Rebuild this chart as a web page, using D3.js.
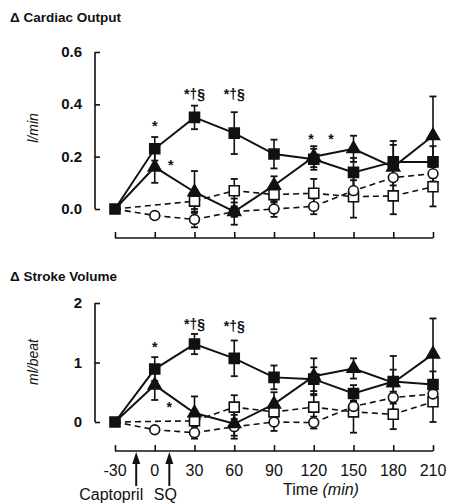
<!DOCTYPE html>
<html>
<head>
<meta charset="utf-8">
<script src="https://cdn.jsdelivr.net/npm/d3@7"></script>
<style>
  body { margin: 0; background: #fff; }
  text { font-family: "Liberation Sans", Arial, sans-serif; fill: #111; }
</style>
</head>
<body>
<script>
// time points (min)
var times = [-30, 0, 30, 60, 90, 120, 150, 180, 210];
var tickLabels = ["-30", "0", "30", "60", "90", "120", "150", "180", "210"];

// cardiac output (l/min)
var coSquare = [0, 0.23, 0.35, 0.29, 0.21, 0.19, 0.14, 0.18, 0.18];
var coSquareErr = [0, 0.045, 0.045, 0.08, 0.055, 0.04, 0.055, 0.065, 0.06];
var coTri = [0, 0.16, 0.065, -0.01, 0.09, 0.2, 0.23, 0.16, 0.28];
var coTriErr = [0, 0.06, 0.08, 0.05, 0.035, 0.04, 0.05, 0.1, 0.15];
var coOpenSq = [0, null, 0.03, 0.07, 0.055, 0.06, 0.047, 0.05, 0.085];
var coOpenSqErr = [0, null, 0.03, 0.045, 0.03, 0.055, 0.08, 0.07, 0.075];
var coCircle = [0, -0.025, -0.04, -0.01, 0.0, 0.01, 0.07, 0.12, 0.135];
var coCircleErr = [0, 0.01, 0.03, 0.02, 0.03, 0.03, 0.04, 0.03, 0.03];

// stroke volume (ml/beat)
var svSquare = [0, 0.89, 1.31, 1.07, 0.75, 0.72, 0.48, 0.68, 0.63];
var svSquareErr = [0, 0.2, 0.17, 0.3, 0.2, 0.2, 0.14, 0.2, 0.22];
var svTri = [0, 0.62, 0.15, -0.03, 0.3, 0.77, 0.9, 0.66, 1.14];
var svTriErr = [0, 0.25, 0.28, 0.2, 0.2, 0.3, 0.17, 0.45, 0.6];
var svOpenSq = [0, null, 0.02, 0.25, 0.17, 0.25, 0.17, 0.13, 0.34];
var svOpenSqErr = [0, null, 0.15, 0.2, 0.15, 0.2, 0.35, 0.25, 0.34];
var svCircle = [0, -0.13, -0.18, -0.08, 0.0, -0.01, 0.26, 0.41, 0.47];
var svCircleErr = [0, 0.03, 0.1, 0.2, 0.15, 0.1, 0.1, 0.1, 0.18];

// significance marks: [time, value, label]
var coMarks = [[0, 0.3, "*"], [30, 0.42, "*†§"], [60, 0.42, "*†§"], [12, 0.15, "*"], [118, 0.25, "*"], [133, 0.25, "*"]];
var svMarks = [[0, 1.17, "*"], [30, 1.56, "*†§"], [60, 1.53, "*†§"], [11, 0.16, "*"]];

var svg = d3.select("body").append("svg")
    .attr("width", 452)
    .attr("height", 504);

var x = d3.scaleLinear().domain([-30, 210]).range([115, 433]);

function toPts(vals, errs) {
  return times.map(function(t, i) { return {t: t, v: vals[i], e: errs[i]}; })
              .filter(function(d) { return d.v != null; });
}

function panel(opt) {
  var y = d3.scaleLinear().domain(opt.domain).range(opt.range);
  var g = svg.append("g");

  // title
  g.append("text").attr("x", 10).attr("y", opt.titleY)
    .style("font-size", "13.5px").style("font-weight", "bold")
    .text("Δ " + opt.title);

  // y axis line + ticks (inward)
  var yAxis = d3.axisRight(y).tickValues(opt.ticks).tickSize(5).tickFormat("");
  var ya = g.append("g").attr("transform", "translate(95,0)").call(yAxis);
  ya.select(".domain").attr("d", "M0," + y(opt.domain[0]) + "V" + y(opt.domain[1]));
  ya.selectAll("line, path").attr("stroke", "#111").attr("stroke-width", 1.6);
  g.selectAll(".ylab").data(opt.ticks).enter().append("text")
    .attr("x", 82).attr("y", function(d) { return y(d) + 5; })
    .attr("text-anchor", "end")
    .style("font-size", "15px").style("font-weight", "bold")
    .text(function(d) { return opt.fmt(d); });

  // y title
  g.append("text")
    .attr("transform", "translate(38," + opt.yTitleY + ") rotate(-90)")
    .attr("text-anchor", "middle")
    .style("font-size", "14px").style("font-style", "italic")
    .text(opt.unit);

  // x bracket axis
  var xAxis = d3.axisTop(x).tickValues(times).tickSize(6).tickFormat("").tickSizeOuter(0);
  var xa = g.append("g").attr("transform", "translate(0," + opt.xAxisY + ")").call(xAxis);
  xa.select(".domain").attr("d", "M" + x(-30) + ",0H" + x(210));
  xa.selectAll("line, path").attr("stroke", "#111").attr("stroke-width", 1.6);

  var line = d3.line().x(function(d) { return x(d.t); }).y(function(d) { return y(d.v); });

  var series = [
    {pts: toPts(opt.openSq, opt.openSqErr), dash: true, shape: "square", fill: "#fff"},
    {pts: toPts(opt.circle, opt.circleErr), dash: true, shape: "circle", fill: "#fff"},
    {pts: toPts(opt.tri, opt.triErr), dash: false, shape: "triangle", fill: "#111"},
    {pts: toPts(opt.square, opt.squareErr), dash: false, shape: "square", fill: "#111", base: true}
  ];

  // error bars
  series.forEach(function(s) {
    var eb = g.append("g");
    s.pts.filter(function(d) { return d.e > 0; }).forEach(function(d) {
      var cx = x(d.t), y1 = y(d.v + d.e), y2 = y(d.v - d.e);
      eb.append("line").attr("x1", cx).attr("x2", cx).attr("y1", y1).attr("y2", y2)
        .attr("stroke", "#111").attr("stroke-width", 1.6);
      [y1, y2].forEach(function(yy) {
        eb.append("line").attr("x1", cx - 3.5).attr("x2", cx + 3.5).attr("y1", yy).attr("y2", yy)
          .attr("stroke", "#111").attr("stroke-width", 1.8);
      });
    });
  });

  // lines
  series.forEach(function(s) {
    g.append("path").datum(s.pts).attr("d", line)
      .attr("fill", "none").attr("stroke", "#111")
      .attr("stroke-width", s.dash ? 1.6 : 2)
      .attr("stroke-dasharray", s.dash ? "6,4" : null);
  });

  // markers (shared baseline point at -30 shown only as filled square)
  var sym = {
    square: d3.symbol().type(d3.symbolSquare).size(100),
    circle: d3.symbol().type(d3.symbolCircle).size(75),
    triangle: d3.symbol().type(d3.symbolTriangle).size(72)
  };
  series.forEach(function(s) {
    var pts = s.base ? s.pts : s.pts.filter(function(d) { return d.t !== -30; });
    g.selectAll(null).data(pts).enter().append("path")
      .attr("transform", function(d) { return "translate(" + x(d.t) + "," + y(d.v) + ")"; })
      .attr("d", sym[s.shape])
      .attr("fill", s.fill).attr("stroke", "#111").attr("stroke-width", 1.6);
  });

  // significance marks
  g.selectAll(".mark").data(opt.marks).enter().append("text")
    .attr("x", function(d) { return x(d[0]); })
    .attr("y", function(d) { return y(d[1]); })
    .attr("text-anchor", "middle")
    .style("font-size", "14px").style("font-weight", "bold")
    .text(function(d) { return d[2]; });

  return y;
}

panel({
  title: "Cardiac Output", titleY: 22, unit: "l/min", yTitleY: 128,
  domain: [0, 0.6], range: [209, 52], ticks: [0, 0.2, 0.4, 0.6],
  fmt: d3.format(".1f"), xAxisY: 238,
  square: coSquare, squareErr: coSquareErr, tri: coTri, triErr: coTriErr,
  openSq: coOpenSq, openSqErr: coOpenSqErr, circle: coCircle, circleErr: coCircleErr,
  marks: coMarks
});

panel({
  title: "Stroke Volume", titleY: 281, unit: "ml/beat", yTitleY: 362,
  domain: [0, 2], range: [422, 303], ticks: [0, 1, 2],
  fmt: d3.format("d"), xAxisY: 451,
  square: svSquare, squareErr: svSquareErr, tri: svTri, triErr: svTriErr,
  openSq: svOpenSq, openSqErr: svOpenSqErr, circle: svCircle, circleErr: svCircleErr,
  marks: svMarks
});

// bottom tick labels
svg.selectAll(".xlab").data(times).enter().append("text")
  .attr("x", function(d) { return x(d); })
  .attr("y", 476)
  .attr("text-anchor", "middle")
  .style("font-size", "16px")
  .text(function(d, i) { return tickLabels[i]; });

// drug arrows
var drugs = [{t: -14, label: "Captopril", dx: -25}, {t: 11, label: "SQ", dx: -4}];
drugs.forEach(function(d) {
  var cx = x(d.t);
  svg.append("line").attr("x1", cx).attr("x2", cx).attr("y1", 486).attr("y2", 460)
    .attr("stroke", "#111").attr("stroke-width", 2);
  svg.append("path").attr("d", "M" + (cx - 4) + ",464L" + cx + ",452L" + (cx + 4) + ",464Z")
    .attr("fill", "#111");
  svg.append("text").attr("x", cx + d.dx).attr("y", 500).attr("text-anchor", "middle")
    .style("font-size", "16px").text(d.label);
});

var tt = svg.append("text").attr("x", 321).attr("y", 495).attr("text-anchor", "middle")
  .style("font-size", "16px");
tt.append("tspan").text("Time ");
tt.append("tspan").style("font-style", "italic").text("(min)");
</script>
</body>
</html>
